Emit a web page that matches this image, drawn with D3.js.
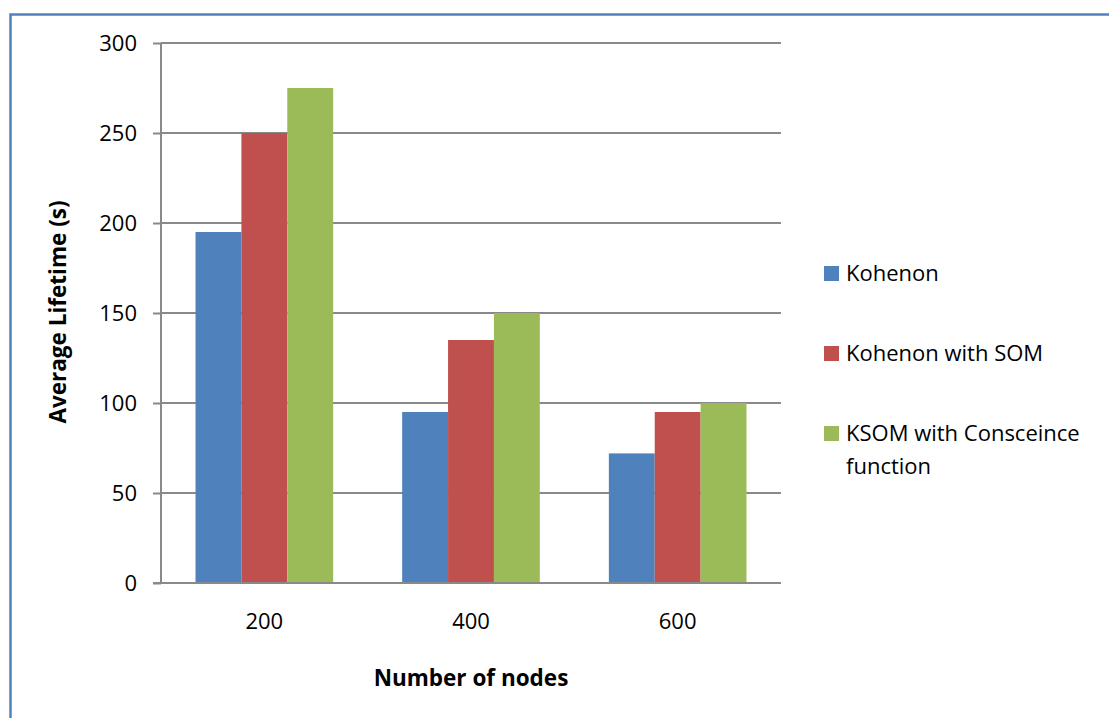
<!DOCTYPE html>
<meta charset="utf-8">
<style>
  body { margin: 0; background: #fff; }
  text { font-family: "Open Sans", sans-serif; fill: #000; }
</style>
<div class="chart"></div>
<script src="https://cdn.jsdelivr.net/npm/d3@7"></script>
<script>
var nodes = ["200", "400", "600"];
var seriesNames = ["Kohenon", "Kohenon with SOM", "KSOM with Consceince function"];
var kohenon = [195, 95, 72];
var kohenonSom = [250, 135, 95];
var ksomConscience = [275, 150, 100];
var yTicks = [0, 50, 100, 150, 200, 250, 300];
var colors = ["#4F81BD", "#C0504D", "#9BBB59"];

var width = 1109, height = 718;
var plot = {left: 161, right: 781, top: 43, bottom: 583};

var values = [kohenon, kohenonSom, ksomConscience];
var data = nodes.map(function (n, i) {
  return {node: n, vals: seriesNames.map(function (s, j) { return {series: s, idx: j, value: values[j][i]}; })};
});

var svg = d3.select(".chart").append("svg")
    .attr("width", width)
    .attr("height", height);

// outer frame (cut off at right and bottom like the original)
svg.append("rect")
    .attr("x", 10.5).attr("y", 14.5)
    .attr("width", 1200).attr("height", 800)
    .attr("fill", "none")
    .attr("stroke", "#4F81BD")
    .attr("stroke-width", 2.5);

var x0 = d3.scaleBand().domain(nodes).range([plot.left, plot.right]);
var x1 = d3.scaleBand().domain(d3.range(3))
    .range([x0.bandwidth() * 0.167, x0.bandwidth() * 0.833]);
var y = d3.scaleLinear().domain([0, 300]).range([plot.bottom, plot.top]);

// gridlines
svg.append("g").selectAll("line")
    .data(yTicks.filter(function (d) { return d > 0; }))
    .enter().append("line")
    .attr("x1", plot.left).attr("x2", plot.right)
    .attr("y1", function (d) { return y(d); })
    .attr("y2", function (d) { return y(d); })
    .attr("stroke", "#898989")
    .attr("stroke-width", 2);

// bars
svg.append("g").selectAll("g")
    .data(data)
    .enter().append("g")
    .attr("transform", function (d) { return "translate(" + x0(d.node) + ",0)"; })
    .selectAll("rect")
    .data(function (d) { return d.vals; })
    .enter().append("rect")
    .attr("x", function (d) { return x1(d.idx); })
    .attr("width", x1.bandwidth())
    .attr("y", function (d) { return y(d.value); })
    .attr("height", function (d) { return y(0) - y(d.value); })
    .attr("fill", function (d) { return colors[d.idx]; });

// y axis
var yAxis = d3.axisLeft(y).tickValues(yTicks).tickSize(8).tickPadding(16);
var gy = svg.append("g")
    .attr("transform", "translate(" + plot.left + ",0)")
    .call(yAxis);
gy.select(".domain").remove();
gy.append("line").attr("x1", 0).attr("x2", 0)
    .attr("y1", plot.top).attr("y2", plot.bottom + 1)
    .attr("stroke", "#898989").attr("stroke-width", 2);
gy.selectAll(".tick line").attr("stroke", "#898989").attr("stroke-width", 2);
gy.selectAll(".tick text").style("font-size", "22px").attr("fill", "#000");

// x axis
var xAxis = d3.axisBottom(x0).tickSize(0).tickPadding(30);
var gx = svg.append("g")
    .attr("transform", "translate(0," + plot.bottom + ")")
    .call(xAxis);
gx.select(".domain").remove();
gx.append("line").attr("x1", plot.left - 8).attr("x2", plot.right)
    .attr("y1", 0).attr("y2", 0)
    .attr("stroke", "#898989").attr("stroke-width", 2);
gx.selectAll(".tick text").style("font-size", "22px").attr("fill", "#000");

// axis titles
svg.append("text")
    .attr("transform", "translate(66,312) rotate(-90)")
    .attr("text-anchor", "middle")
    .style("font-size", "22.5px")
    .style("font-weight", "bold")
    .text("Average Lifetime (s)");

svg.append("text")
    .attr("x", 471).attr("y", 686)
    .attr("text-anchor", "middle")
    .style("font-size", "22.5px")
    .style("font-weight", "bold")
    .text("Number of nodes");

// legend
var legend = svg.append("g").selectAll("g")
    .data(seriesNames)
    .enter().append("g")
    .attr("transform", function (d, i) { return "translate(824," + (266 + i * 80) + ")"; });
legend.append("rect")
    .attr("width", 15).attr("height", 15)
    .attr("fill", function (d, i) { return colors[i]; });
legend.append("text")
    .attr("x", 22).attr("y", 15)
    .style("font-size", "22px")
    .each(function (d) {
      var t = d3.select(this);
      if (d.indexOf("Consceince") >= 0) {
        t.append("tspan").attr("x", 22).text("KSOM with Consceince");
        t.append("tspan").attr("x", 22).attr("dy", 33).text("function");
      } else {
        t.text(d);
      }
    });
</script>
